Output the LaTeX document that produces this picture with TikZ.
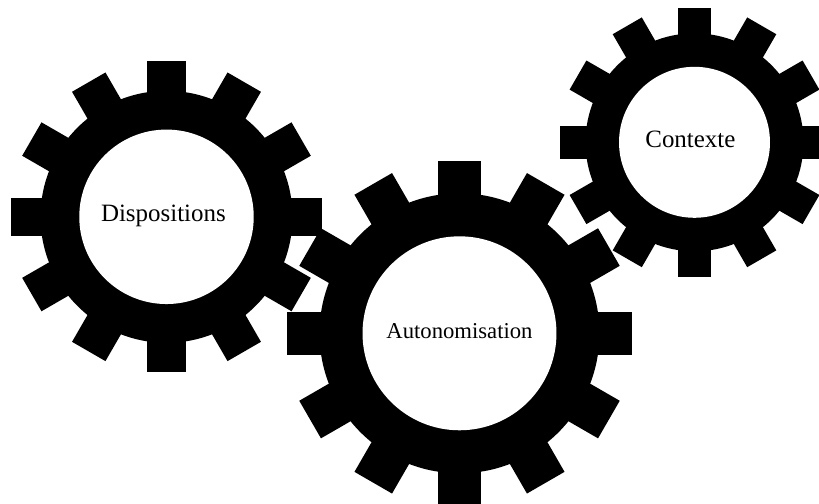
\documentclass[tikz,border=0pt]{standalone}
\usepackage{fontspec}
\setmainfont{Liberation Serif}
\usetikzlibrary{calc}
\tikzset{
  geartooth/.style={fill=black,draw=none},
  gearhole/.style={circle,fill=white,inner sep=0pt},
  gearlabel/.style={anchor=base,color=black}
}
% center, tooth half width, body radius, outer radius
\newcommand{\gearbody}[4]{
  \fill[black] (#1) circle (#3);
  \foreach \ang in {0,30,...,330}
    \fill[geartooth,shift={(#1)},rotate=\ang] (#3-4,-#2) -- (#4,-#2) -- (#4,#2) -- (#3-4,#2) -- cycle;
}
\begin{document}
\begin{tikzpicture}[x=0.02cm,y=-0.02cm]
  \useasboundingbox (0,0) rectangle (819,504);
  \coordinate (dispo) at (166.5,216.8);
  \coordinate (auton) at (459.5,333.3);
  \coordinate (conte) at (694.5,142.3);
  \gearbody{auton}{21.7}{140}{172.5}
  \gearbody{dispo}{19.3}{126}{155.5}
  \gearbody{conte}{16.8}{109}{134.5}
  \node[gearhole,minimum size=3.49cm] (h1) at (dispo) {};
  \node[gearhole,minimum size=3.88cm] (h2) at (auton) {};
  \node[gearhole,minimum size=3.02cm] (h3) at (conte) {};
  \node[gearlabel,font=\fontsize{14.2pt}{16pt}\selectfont] (t1) at (163.4,221.5) {Dispositions};
  \node[gearlabel,font=\fontsize{12.9pt}{16pt}\selectfont] (t2) at (459.5,338) {Autonomisation};
  \node[gearlabel,font=\fontsize{14.2pt}{16pt}\selectfont] (t3) at (690.4,147.8) {Contexte};
\end{tikzpicture}
\end{document}
